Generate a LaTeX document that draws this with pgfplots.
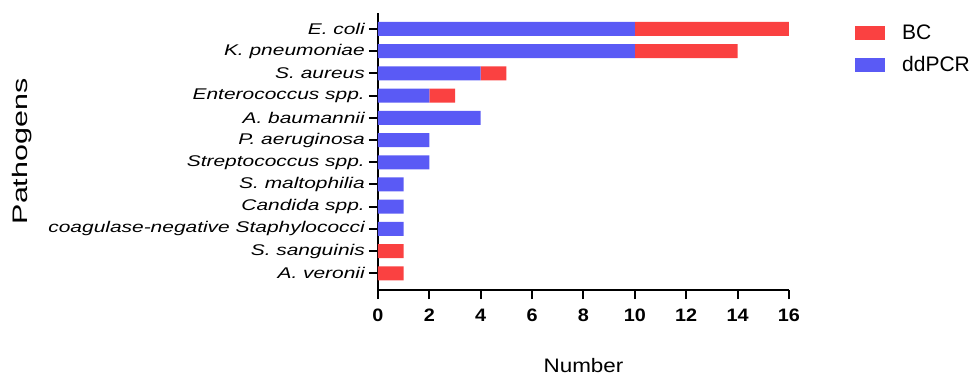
\documentclass[border=0pt]{standalone}
\usepackage{fontspec}
\setmainfont{Liberation Sans}
\newfontfamily\catfont[FakeStretch=1.35]{Liberation Sans}
\newfontfamily\labfont[FakeStretch=1.45]{Liberation Sans}
\newfontfamily\numfont[FakeStretch=1.1]{Liberation Sans}
\newfontfamily\xlabfont[FakeStretch=1.15]{Liberation Sans}
\usepackage{pgfplots}
\pgfplotsset{compat=1.18}
\definecolor{bcred}{RGB}{250,65,65}
\definecolor{pcrblue}{RGB}{90,90,245}
\begin{document}
\begin{tikzpicture}
\path[use as bounding box] (-378pt,-85pt) rectangle (594pt,290pt);
\begin{axis}[
  at={(0pt,0pt)}, anchor=south west,
  scale only axis, width=411pt, height=277pt,
  xbar stacked, bar width=0.63,
  xmin=0, xmax=16, ymin=-0.75, ymax=11.72,
  axis lines=left, axis line style={-, line width=2.5pt, black},
  xtick={0,2,...,16}, ytick={0,...,11},
  yticklabels={A. veronii, S. sanguinis, coagulase-negative Staphylococci, Candida spp., S. maltophilia, Streptococcus spp., P. aeruginosa, A. baumannii, Enterococcus spp., S. aureus, K. pneumoniae, E. coli},
  tick align=outside, major tick length=9pt, tick style={line width=2pt, black},
  minor tick num=0,
  /pgf/number format/assume math mode=true,
  xticklabel style={font=\numfont\bfseries\fontsize{18}{20}\selectfont, inner sep=0pt, yshift=-10pt},
  yticklabel style={font=\catfont\itshape\fontsize{15.5}{18}\selectfont, inner sep=0pt, xshift=-4pt},
  xlabel={Number},
  xlabel style={font=\xlabfont\fontsize{19.5}{22}\selectfont, at={(axis description cs:0.5,-0.2733)}, anchor=center},
  ylabel={Pathogens},
  ylabel style={font=\labfont\fontsize{21}{24}\selectfont, at={(axis description cs:-0.866,0.5)}, anchor=center},
  legend style={draw=none, fill=none, at={(1.1533,0.964)}, anchor=north west,
    font=\fontsize{21}{24}\selectfont, nodes={inner sep=0pt}, row sep=15pt,
    /tikz/every odd column/.append style={column sep=17pt}, cells={anchor=west}},
  reverse legend,
  legend image code/.code={\fill[#1] (0pt,-7pt) rectangle (30pt,7pt);},
]
\addplot[fill=pcrblue, draw=none] coordinates {(0,0) (0,1) (1,2) (1,3) (1,4) (2,5) (2,6) (4,7) (2,8) (4,9) (10,10) (10,11)};
\addplot[fill=bcred, draw=none] coordinates {(1,0) (1,1) (0,2) (0,3) (0,4) (0,5) (0,6) (0,7) (1,8) (1,9) (4,10) (6,11)};
\legend{ddPCR, BC}
\end{axis}
\end{tikzpicture}
\end{document}
